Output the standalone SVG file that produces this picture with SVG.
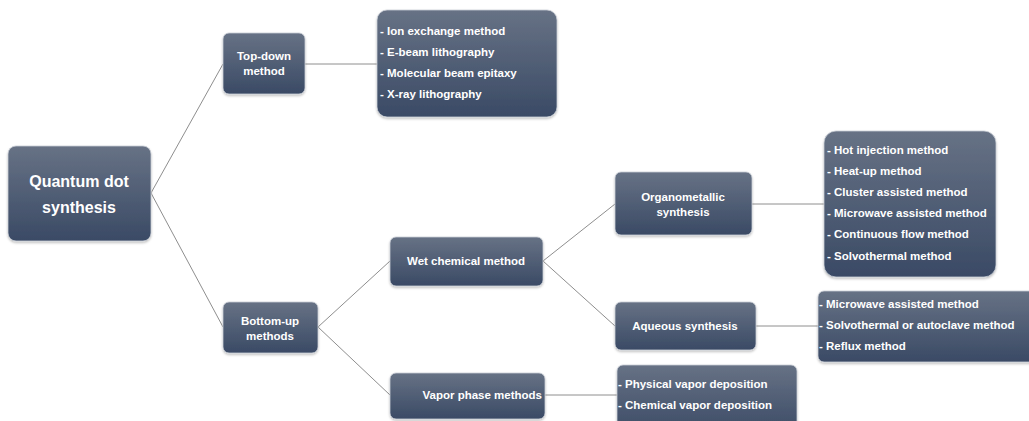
<svg xmlns="http://www.w3.org/2000/svg" width="1029" height="421" viewBox="0 0 1029 421">
<defs>
<linearGradient id="g" x1="0" y1="0" x2="0" y2="1">
<stop offset="0" stop-color="#677285"/>
<stop offset="1" stop-color="#3a4a65"/>
</linearGradient>
<filter id="sh" x="-10%" y="-10%" width="120%" height="130%">
<feDropShadow dx="0" dy="1.5" stdDeviation="1.2" flood-color="#000" flood-opacity="0.25"/>
</filter>
</defs>
<style>
.box{fill:url(#g);stroke:#c9ced6;stroke-width:0.8;filter:url(#sh)}
.t{font-family:"Liberation Sans",Arial,sans-serif;font-weight:bold;fill:#fff;font-size:11.5px}
.c{text-anchor:middle}
.big{font-size:16px}
.ln{stroke:#8e8e8e;stroke-width:1;fill:none}
</style>
<rect width="1029" height="421" fill="#fff"/>
<g id="connectors">
<path class="ln" d="M151,193 L223,64 M151,193 L223,327"/>
<path class="ln" d="M305,64 L377,64"/>
<path class="ln" d="M318,327 L390,261 M318,327 L390,395"/>
<path class="ln" d="M543,261 L615,204 M543,261 L615,326"/>
<path class="ln" d="M752,204 L824,204"/>
<path class="ln" d="M756,326 L818,326"/>
<path class="ln" d="M545,395 L617,395"/>
</g>
<g id="quantum">
<rect class="box" x="8" y="146" width="143" height="95" rx="8"/>
<text class="t big c" x="79" y="187">Quantum dot</text>
<text class="t big c" x="79" y="213">synthesis</text>
</g>
<g id="topdown">
<rect class="box" x="223" y="33" width="82" height="61" rx="6"/>
<text class="t c" x="264" y="60">Top-down</text>
<text class="t c" x="264" y="75">method</text>
</g>
<g id="topdown-list">
<rect class="box" x="377" y="10" width="180" height="107" rx="10"/>
<text class="t" x="380" y="35">- Ion exchange method</text>
<text class="t" x="380" y="56">- E-beam lithography</text>
<text class="t" x="380" y="77">- Molecular beam epitaxy</text>
<text class="t" x="380" y="98">- X-ray lithography</text>
</g>
<g id="bottomup">
<rect class="box" x="223" y="302" width="95" height="51" rx="6"/>
<text class="t c" x="270" y="325">Bottom-up</text>
<text class="t c" x="270" y="340">methods</text>
</g>
<g id="wet">
<rect class="box" x="390" y="237" width="153" height="49" rx="6"/>
<text class="t c" x="466" y="265">Wet chemical method</text>
</g>
<g id="vapor">
<rect class="box" x="390" y="373" width="155" height="46" rx="6"/>
<text class="t" x="542" y="399" text-anchor="end">Vapor phase methods</text>
</g>
<g id="organo">
<rect class="box" x="615" y="172" width="137" height="63" rx="6"/>
<text class="t c" x="683" y="201">Organometallic</text>
<text class="t c" x="683" y="216">synthesis</text>
</g>
<g id="aqueous">
<rect class="box" x="615" y="302" width="141" height="48" rx="6"/>
<text class="t c" x="685" y="330">Aqueous synthesis</text>
</g>
<g id="organo-list">
<rect class="box" x="824" y="131" width="172" height="146" rx="12"/>
<text class="t" x="827" y="154">- Hot injection method</text>
<text class="t" x="827" y="175">- Heat-up method</text>
<text class="t" x="827" y="196">- Cluster assisted method</text>
<text class="t" x="827" y="217">- Microwave assisted method</text>
<text class="t" x="827" y="238">- Continuous flow method</text>
<text class="t" x="827" y="260">- Solvothermal method</text>
</g>
<g id="aqueous-list">
<rect class="box" x="818" y="291" width="225" height="71" rx="6"/>
<text class="t" x="819" y="308">- Microwave assisted method</text>
<text class="t" x="819" y="329">- Solvothermal or autoclave method</text>
<text class="t" x="819" y="350">- Reflux method</text>
</g>
<g id="vapor-list">
<rect class="box" x="617" y="365" width="180" height="70" rx="6"/>
<text class="t" x="618" y="388">- Physical vapor deposition</text>
<text class="t" x="618" y="409">- Chemical vapor deposition</text>
</g>
</svg>
